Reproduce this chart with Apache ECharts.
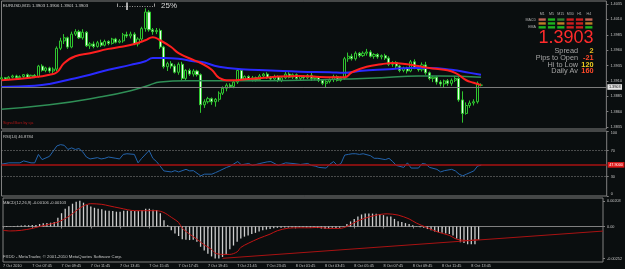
<!DOCTYPE html>
<html>
<head>
<meta charset="utf-8">
<script src="https://cdn.jsdelivr.net/npm/echarts@6.0.0/dist/echarts.min.js"></script>
<style>
html, body { margin: 0; padding: 0; background: #0a0e0f; }
#chart { width: 625px; height: 269px; }
</style>
</head>
<body>
<div id="chart"></div>
<script>
// 时间轴刻度 (每 8 根 M15 K线一个)
const tickLabels = ['7 Oct 2010', '7 Oct 07:45', '7 Oct 09:45', '7 Oct 11:45', '7 Oct 13:45', '7 Oct 15:45',
    '7 Oct 17:45', '7 Oct 19:45', '7 Oct 21:45', '7 Oct 23:45', '8 Oct 01:45', '8 Oct 03:45',
    '8 Oct 05:45', '8 Oct 07:45', '8 Oct 09:45', '8 Oct 11:45', '8 Oct 13:45'];
const slotCount = 165;   // bars + empty space on the right
const lastBar = 130;

// K线
const candleOpen = [1.3913,1.3915,1.3913,1.3916,1.3918,1.3915,1.3917,1.3920,1.3916,1.3919,
    1.3917,1.3934,1.3927,1.3931,1.3926,1.3929,1.3963,1.3975,1.3980,1.3965,
    1.3986,1.3990,1.3980,1.3989,1.3967,1.3970,1.3966,1.3972,1.3968,1.3974,
    1.3971,1.3978,1.3973,1.3975,1.3985,1.3983,1.3986,1.3970,1.3978,1.3995,
    1.4022,1.3993,1.3990,1.3992,1.3965,1.3933,1.3938,1.3934,1.3924,1.3937,
    1.3914,1.3927,1.3921,1.3926,1.3920,1.3871,1.3876,1.3881,1.3876,1.3880,
    1.3890,1.3898,1.3903,1.3901,1.3908,1.3927,1.3913,1.3917,1.3912,1.3915,
    1.3912,1.3918,1.3921,1.3915,1.3913,1.3917,1.3911,1.3915,1.3921,1.3916,
    1.3920,1.3914,1.3917,1.3915,1.3919,1.3914,1.3916,1.3911,1.3906,1.3909,
    1.3912,1.3917,1.3911,1.3914,1.3946,1.3950,1.3946,1.3955,1.3951,1.3955,
    1.3957,1.3950,1.3953,1.3949,1.3951,1.3947,1.3937,1.3940,1.3934,1.3927,
    1.3931,1.3926,1.3941,1.3932,1.3928,1.3936,1.3923,1.3914,1.3916,1.3908,
    1.3905,1.3910,1.3906,1.3911,1.3914,1.3879,1.3857,1.3870,1.3874,1.3876,
    1.3903];
const candleClose = [1.3915,1.3913,1.3916,1.3918,1.3915,1.3917,1.3920,1.3916,1.3919,1.3917,
    1.3934,1.3927,1.3931,1.3926,1.3929,1.3963,1.3975,1.3980,1.3965,1.3986,
    1.3990,1.3980,1.3989,1.3967,1.3970,1.3966,1.3972,1.3968,1.3974,1.3971,
    1.3978,1.3973,1.3975,1.3985,1.3983,1.3986,1.3970,1.3978,1.3995,1.4022,
    1.3993,1.3990,1.3992,1.3965,1.3933,1.3938,1.3934,1.3924,1.3937,1.3914,
    1.3927,1.3921,1.3926,1.3920,1.3871,1.3876,1.3881,1.3876,1.3880,1.3890,
    1.3898,1.3903,1.3901,1.3908,1.3927,1.3913,1.3917,1.3912,1.3915,1.3912,
    1.3918,1.3921,1.3915,1.3913,1.3917,1.3911,1.3915,1.3921,1.3916,1.3920,
    1.3914,1.3917,1.3915,1.3919,1.3914,1.3916,1.3911,1.3906,1.3909,1.3912,
    1.3917,1.3911,1.3914,1.3946,1.3950,1.3946,1.3955,1.3951,1.3955,1.3957,
    1.3950,1.3953,1.3949,1.3951,1.3947,1.3937,1.3940,1.3934,1.3927,1.3931,
    1.3926,1.3941,1.3932,1.3928,1.3936,1.3923,1.3914,1.3916,1.3908,1.3905,
    1.3910,1.3906,1.3911,1.3914,1.3879,1.3857,1.3870,1.3874,1.3876,1.3906,
    1.3903];
const candleLow = [1.3911,1.3911,1.3911,1.3914,1.3913,1.3913,1.3915,1.3915,1.3914,1.3916,
    1.3915,1.3925,1.3924,1.3923,1.3922,1.3926,1.3960,1.3970,1.3962,1.3963,
    1.3983,1.3978,1.3977,1.3965,1.3962,1.3963,1.3964,1.3965,1.3966,1.3968,
    1.3969,1.3971,1.3971,1.3972,1.3980,1.3979,1.3968,1.3966,1.3975,1.3990,
    1.3990,1.3985,1.3986,1.3962,1.3930,1.3926,1.3930,1.3922,1.3920,1.3911,
    1.3911,1.3918,1.3917,1.3917,1.3858,1.3866,1.3873,1.3871,1.3868,1.3876,
    1.3887,1.3893,1.3898,1.3898,1.3905,1.3910,1.3910,1.3910,1.3909,1.3909,
    1.3910,1.3915,1.3913,1.3910,1.3911,1.3908,1.3908,1.3913,1.3914,1.3913,
    1.3912,1.3910,1.3912,1.3913,1.3910,1.3911,1.3908,1.3903,1.3900,1.3906,
    1.3908,1.3909,1.3909,1.3912,1.3941,1.3943,1.3943,1.3948,1.3949,1.3951,
    1.3948,1.3946,1.3946,1.3945,1.3944,1.3934,1.3933,1.3931,1.3924,1.3924,
    1.3922,1.3924,1.3929,1.3925,1.3925,1.3920,1.3911,1.3908,1.3904,1.3901,
    1.3900,1.3902,1.3902,1.3908,1.3876,1.3842,1.3855,1.3866,1.3870,1.3873,
    1.3901];
const candleHigh = [1.3918,1.3916,1.3918,1.3920,1.3920,1.3919,1.3921,1.3922,1.3920,1.3921,
    1.3936,1.3937,1.3933,1.3933,1.3932,1.3966,1.3980,1.3986,1.3982,1.3990,
    1.3994,1.3993,1.3994,1.3991,1.3973,1.3974,1.3975,1.3977,1.3977,1.3976,
    1.3980,1.3980,1.3978,1.3988,1.3990,1.3990,1.3989,1.3981,1.3998,1.4028,
    1.4025,1.3996,1.3996,1.3995,1.3967,1.3941,1.3942,1.3937,1.3940,1.3941,
    1.3929,1.3930,1.3929,1.3928,1.3922,1.3880,1.3884,1.3883,1.3882,1.3893,
    1.3901,1.3906,1.3906,1.3911,1.3930,1.3929,1.3919,1.3919,1.3918,1.3917,
    1.3921,1.3923,1.3924,1.3918,1.3920,1.3919,1.3917,1.3925,1.3924,1.3922,
    1.3922,1.3919,1.3919,1.3921,1.3925,1.3918,1.3918,1.3913,1.3911,1.3914,
    1.3920,1.3919,1.3917,1.3949,1.3956,1.3954,1.3958,1.3957,1.3958,1.3962,
    1.3960,1.3955,1.3955,1.3953,1.3954,1.3950,1.3942,1.3942,1.3936,1.3933,
    1.3933,1.3944,1.3945,1.3935,1.3940,1.3941,1.3925,1.3918,1.3918,1.3911,
    1.3912,1.3913,1.3914,1.3918,1.3916,1.3893,1.3875,1.3878,1.3880,1.3909,
    1.3906];

// 均线 (按K线序号读取)
const redMA = [[0,1.3911],[9,1.3916],[13,1.3920],[15,1.3924],[17,1.3939],[20,1.3950],[24,1.3955],
    [29,1.3962],[32,1.3965],[36,1.3970],[39,1.3976],[41,1.3981],[43,1.3976],[46,1.3965],[48,1.3955],
    [52,1.3944],[54,1.3939],[57,1.3928],[59,1.3915],[62,1.3911],[67,1.3913],[73,1.3916],[81,1.3918],
    [88,1.3916],[93,1.3916],[95,1.3924],[99,1.3933],[103,1.3937],[106,1.3939],[110,1.3937],
    [113,1.3934],[116,1.3931],[120,1.3928],[123,1.3923],[126,1.3911],[128,1.3907],[130,1.3903]];
const blueMA = [[0,1.3900],[9,1.3902],[13,1.3905],[19,1.3913],[24,1.3920],[29,1.3928],[35,1.3936],
    [39,1.3942],[41,1.3947],[44,1.3947],[48,1.3946],[52,1.3942],[54,1.3941],[59,1.3933],[65,1.3929],
    [73,1.3927],[81,1.3925],[89,1.3924],[93,1.3923],[97,1.3926],[105,1.3929],[111,1.3931],
    [116,1.3931],[122,1.3928],[127,1.3923],[130,1.3920]];
const greenMA = [[0,1.3864],[13,1.3871],[27,1.3884],[35,1.3894],[40,1.3903],[43,1.3908],[50,1.3910],
    [67,1.3910],[81,1.3911],[93,1.3913],[103,1.3915],[113,1.3918],[119,1.3918],[130,1.3916]];
const bidPrice = 1.3903;
const priceTicks = [1.3835, 1.3860, 1.3885, 1.3910, 1.3935, 1.3960, 1.3985, 1.4010, 1.4035];

// RSI(14)
const rsiValues = [[0,49],[2,51],[5,51],[6,54],[8,51],[9,51],[10,64],[11,56],[13,61],[15,77],[16,79],
    [17,78],[18,71.6],[19,74],[20,71.6],[21,73],[22,68],[23,60],[24,57],[26,59],[27,57],[28,58],
    [29,60],[31,58],[32,57],[33,64],[34,65],[36,64],[37,51],[38,58],[40,70],[41,58],[42,53],[43,46],
    [44,38.6],[46,37],[47,39],[48,37],[50,41],[51,38.6],[52,39],[54,31],[55,33.6],[57,33.6],[58,36],
    [59,38.6],[61,44],[62,46],[63,49.5],[64,53],[65,48],[67,50],[68,47],[70,50],[72,52.5],[73,53],
    [75,47],[77,51],[79,50],[81,48.5],[83,50],[84,47],[85,46],[86,44],[88,43],[89,49],[90,53],
    [91,47],[92,50],[93,63],[94,64],[95,65],[96,65],[97,64],[98,65],[100,62],[101,58],[102,58],
    [104,56],[105,58],[106,53],[107,47],[109,44],[110,51],[111,43],[113,43],[114,50],[115,49],
    [116,44],[118,41],[119,37],[120,39],[122,41],[123,38.6],[124,33.6],[125,31],[126,33.6],
    [128,38.6],[129,46],[130,47.5]];
const rsiTicks = [0, 30, 70, 100];
const rsiLevels = [70, 30];
const rsiRedLevel = 47.9;

// MACD(12,26,9)
const macdHist = [0.00002,-0.00003,0.00003,0.00005,0.00006,0.00008,0.0001,0.0001,0.00012,0.00012,
    0.0002,0.00025,0.00028,0.0003,0.00035,0.0007,0.00105,0.0014,0.0016,0.0018,
    0.00195,0.00203,0.00188,0.0017,0.00157,0.00148,0.0014,0.00136,0.00126,0.00125,
    0.00122,0.00117,0.00117,0.00125,0.00125,0.00125,0.00122,0.00122,0.0013,0.0014,
    0.0014,0.00133,0.0013,0.00105,0.0005,0.0001,-0.0003,-0.00055,-0.00075,-0.001,
    -0.00105,-0.00107,-0.00105,-0.0012,-0.0016,-0.0019,-0.00215,-0.00236,-0.00252,-0.00252,
    -0.0024,-0.0022,-0.0018,-0.0015,-0.0012,-0.00095,-0.0008,-0.0007,-0.0006,-0.0005,
    -0.0004,-0.0003,-0.00024,-0.0002,-0.00014,-0.0001,-0.0001,-0.00008,-0.00008,-0.00008,
    -0.00006,-0.00005,-0.00006,-0.00008,-0.00007,-0.0001,-0.00012,-0.00015,-0.00018,-0.00015,
    -0.0001,-0.00012,-0.0001,0.00002,0.0002,0.0004,0.0006,0.0008,0.00095,0.00102,
    0.00102,0.00102,0.001,0.00098,0.0009,0.0008,0.0008,0.0006,0.00042,0.00035,
    0.00027,0.0002,0.0001,0.00002,-0.00005,-0.0001,-0.0002,-0.0003,-0.0004,-0.00045,
    -0.0005,-0.00055,-0.0006,-0.0007,-0.00095,-0.00125,-0.0013,-0.0014,-0.0014,-0.0014,
    -0.00106];
const macdSignal = [[0,-0.0003],[2,-0.00035],[5,-0.0003],[8,-0.00015],[10,0],[13,0.0002],[15,0.00035],
    [18,0.0008],[20,0.00125],[22,0.00163],[24,0.0018],[27,0.00175],[29,0.00163],[32,0.00145],
    [36,0.00125],[39,0.00125],[42,0.00125],[44,0.0011],[46,0.00073],[48,0.00032],[49,-0.00013],
    [51,-0.0006],[53,-0.001],[55,-0.00145],[57,-0.0018],[58,-0.0021],[60,-0.0022],[62,-0.0022],
    [64,-0.002],[65,-0.00165],[67,-0.00133],[70,-0.00093],[73,-0.0006],[75,-0.00033],[78,-0.00013],
    [81,-0.0001],[84,-0.0001],[86,-0.00007],[89,-0.00015],[92,-0.00015],[94,0],[97,0.00045],
    [100,0.00075],[103,0.00095],[105,0.001],[108,0.0009],[111,0.0006],[113,0.00027],[116,-0.0001],
    [119,-0.00045],[122,-0.0007],[124,-0.001],[127,-0.0011],[130,-0.00103]];
const macdTrend = [[60,-0.00251],[164,-0.00036]];
const macdTicks = [-0.00252, 0, 0.00203];

// 多周期信号面板
const tfNames = ['M1', 'M5', 'M15', 'M30', 'H1', 'H4'];
const signalRows = ['MACD', 'STR', 'EMA'];
const macdStates = ['weakDown', 'up', 'weakUp', 'down', 'down', 'weakDown'];
const strStates = ['flat', 'up', 'flat', 'down', 'down', 'flat'];
const emaStates = ['up', 'up', 'up', 'down', 'down', 'up'];
const stateColors = { up: '#22dd22', weakUp: '#3f9a35', down: '#ff2222', weakDown: '#f07a66', flat: '#eb9a2e' };

// 右侧信息
const infoLabels = ['Spread', 'Pips to Open', 'Hi to Low', 'Daily Av'];
const infoValues = ['2', '-21', '120', '160'];
const infoColors = ['#e8c020', '#ff4a2a', '#f0d020', '#ff4a2a'];

const FONT = '"Liberation Sans", Arial, sans-serif';
const AXIS_TEXT = '#c4c4c4';
const BORDER = '#808080';

let chart;

function showSlot(idx) {
    return idx % 8 === 0 && idx <= lastBar;
}

function buildSignalCells() {
    const rows = [macdStates, strStates, emaStates];
    const cells = [];
    rows.forEach((states, r) => {
        states.forEach((s, c) => {
            cells.push({ value: [c, r], itemStyle: { color: stateColors[s] } });
        });
    });
    return cells;
}

function text(x, y, str, size, fill, align, weight) {
    return {
        type: 'text', x: x, y: y, silent: true,
        style: {
            text: str, fill: fill, font: (weight || 'normal') + ' ' + size + 'px ' + FONT,
            textAlign: align || 'left', textVerticalAlign: 'middle'
        }
    };
}

function buildGraphics() {
    const g = [
        text(3, 5.5, 'EURUSD,M15 1.3903 1.3906 1.3901 1.3903', 4.3, '#d0d0d0'),
        text(161, 5.8, '25%', 8, '#d8d8d8'),
        { type: 'line', silent: true, shape: { x1: 117, y1: 6.5, x2: 155, y2: 6.5 },
          style: { stroke: '#9a9a9a', lineWidth: 1, lineDash: [1, 1.5] } },
        { type: 'line', silent: true, shape: { x1: 117.5, y1: 3.5, x2: 117.5, y2: 6.5 }, style: { stroke: '#9a9a9a', lineWidth: 1 } },
        { type: 'line', silent: true, shape: { x1: 154.5, y1: 3.5, x2: 154.5, y2: 6.5 }, style: { stroke: '#9a9a9a', lineWidth: 1 } },
        { type: 'line', silent: true, shape: { x1: 127, y1: 2.5, x2: 127, y2: 10 }, style: { stroke: '#e0e0e0', lineWidth: 1.5 } },
        text(3, 122.5, 'Signal Bars by cja', 3.8, '#b01515'),
        text(3, 136.5, 'RSI(14) 46.8784', 4.1, '#c8c8c8'),
        text(3, 202.5, 'MACD(12,26,9) -0.00106 -0.00103', 4.1, '#c8c8c8'),
        text(3, 256.5, 'FXDD - MetaTrader, \u00a9 2001-2010 MetaQuotes Software Corp.', 4.3, '#c8c8c8'),
        text(593.5, 38.5, '1.3903', 18, '#ff2b2b', 'right')
    ];
    infoLabels.forEach((label, i) => {
        const y = 51.3 + i * 6.65;
        g.push(text(578, y, label, 7.3, '#a4a4a4', 'right'));
        g.push(text(593.5, y, infoValues[i], 7.3, infoColors[i], 'right', 'bold'));
    });
    return g;
}

function initChart() {
    chart = echarts.init(document.getElementById('chart'), null, { renderer: 'canvas' });
    const cats = Array.from({ length: slotCount }, (_, i) => i);
    const candles = candleOpen.map((o, i) => [o, candleClose[i], candleLow[i], candleHigh[i]]);
    const paneGrid = { left: 1.5, width: 605.2, show: true, borderColor: BORDER, borderWidth: 1, backgroundColor: 'transparent' };
    const hiddenX = (gi) => ({ gridIndex: gi, type: 'category', data: cats, boundaryGap: false, show: false });
    const rightY = (gi, extra) => Object.assign({
        gridIndex: gi, type: 'value', position: 'right',
        splitLine: { show: false }, axisLine: { show: false },
        axisTick: { show: true, length: 2, lineStyle: { color: BORDER } }
    }, extra);

    const option = {
        backgroundColor: '#0a0e0f',
        animation: false,
        textStyle: { fontFamily: FONT },
        grid: [
            Object.assign({ top: 1, height: 128 }, paneGrid),
            Object.assign({ top: 131, height: 65 }, paneGrid),
            Object.assign({ top: 198, height: 64 }, paneGrid),
            { left: 537.5, top: 17.6, width: 56, height: 11.7, show: false }
        ],
        xAxis: [
            hiddenX(0),
            hiddenX(1),
            {
                gridIndex: 2, type: 'category', data: cats, boundaryGap: false,
                axisLine: { show: true, lineStyle: { color: BORDER } },
                axisTick: { show: true, interval: showSlot, length: 2, lineStyle: { color: BORDER } },
                axisLabel: {
                    interval: showSlot, align: 'left', color: AXIS_TEXT, fontSize: 3.8, margin: 2,
                    formatter: (v, idx) => tickLabels[idx / 8] || ''
                },
                splitLine: { show: false }
            },
            {
                gridIndex: 3, type: 'category', data: tfNames, position: 'top',
                axisLine: { show: false }, axisTick: { show: false },
                axisLabel: { color: '#b0b0b0', fontSize: 3.6, margin: 1.5 }
            }
        ],
        yAxis: [
            rightY(0, {
                min: 1.38317, max: 1.40399,
                axisTick: { show: true, length: 2, customValues: priceTicks, lineStyle: { color: BORDER } },
                axisLabel: { customValues: priceTicks, formatter: v => v.toFixed(4), color: AXIS_TEXT, fontSize: 3.8, margin: 4 }
            }),
            rightY(1, {
                min: 0, max: 100,
                axisTick: { show: true, length: 2, customValues: rsiTicks, lineStyle: { color: BORDER } },
                axisLabel: {
                    customValues: rsiTicks, color: AXIS_TEXT, fontSize: 3.8, margin: 4,
                    verticalAlignMinLabel: 'bottom', verticalAlignMaxLabel: 'top'
                }
            }),
            rightY(2, {
                min: -0.0028, max: 0.00225,
                axisTick: { show: true, length: 2, customValues: macdTicks, lineStyle: { color: BORDER } },
                axisLabel: {
                    customValues: macdTicks, color: AXIS_TEXT, fontSize: 3.8, margin: 4,
                    formatter: v => (v === 0 ? '0.00' : v.toFixed(5))
                }
            }),
            {
                gridIndex: 3, type: 'category', data: signalRows, inverse: true,
                axisLine: { show: false }, axisTick: { show: false },
                axisLabel: { color: '#b0b0b0', fontSize: 3.6, margin: 1.5 }
            }
        ],
        series: [
            {
                name: 'EURUSD', type: 'candlestick', xAxisIndex: 0, yAxisIndex: 0,
                data: candles, barWidth: 2.6, z: 2,
                itemStyle: { color: '#0a0e0f', color0: '#e8ffe8', borderColor: '#2fc52f', borderColor0: '#2fc52f', borderWidth: 1 },
                markLine: {
                    silent: true, symbol: ['none', 'none'],
                    data: [{
                        yAxis: bidPrice,
                        lineStyle: { color: '#7c7c7c', width: 1, type: 'solid' },
                        label: {
                            show: true, position: 'end', distance: 1, formatter: bidPrice.toFixed(4),
                            backgroundColor: '#e6e6e6', color: '#000', fontSize: 3.8, padding: [0.8, 1.5]
                        }
                    }]
                }
            },
            { name: 'MA slow', type: 'line', data: greenMA, smooth: true, showSymbol: false, z: 3,
              lineStyle: { color: '#2f8f56', width: 1.5 } },
            { name: 'MA mid', type: 'line', data: blueMA, smooth: true, showSymbol: false, z: 3,
              lineStyle: { color: '#2a2aff', width: 2 } },
            { name: 'MA fast', type: 'line', data: redMA, smooth: true, showSymbol: false, z: 4,
              lineStyle: { color: '#ff1f1f', width: 2 } },
            {
                name: 'RSI', type: 'line', xAxisIndex: 1, yAxisIndex: 1, data: rsiValues,
                showSymbol: false, lineStyle: { color: '#2464ac', width: 1 },
                markLine: {
                    silent: true, symbol: ['none', 'none'],
                    data: rsiLevels.map(v => ({
                        yAxis: v, label: { show: false },
                        lineStyle: { color: '#8a8a8a', width: 1, type: [1, 2] }
                    })).concat([{
                        yAxis: rsiRedLevel,
                        lineStyle: { color: '#a81212', width: 1.5, type: 'solid' },
                        label: {
                            show: true, position: 'end', distance: 1, formatter: rsiRedLevel.toFixed(4),
                            backgroundColor: '#e01a1a', color: '#fff', fontSize: 3.8, padding: [0.8, 1.5]
                        }
                    }])
                }
            },
            {
                name: 'MACD', type: 'bar', xAxisIndex: 2, yAxisIndex: 2, data: macdHist,
                barWidth: 1.3, itemStyle: { color: '#cfcfcf' }
            },
            { name: 'Signal', type: 'line', xAxisIndex: 2, yAxisIndex: 2, data: macdSignal,
              smooth: 0.3, showSymbol: false, lineStyle: { color: '#c21414', width: 1 } },
            { name: 'Trend', type: 'line', xAxisIndex: 2, yAxisIndex: 2, data: macdTrend,
              showSymbol: false, lineStyle: { color: '#a81212', width: 1 } },
            {
                name: 'Signals', type: 'scatter', xAxisIndex: 3, yAxisIndex: 3,
                data: buildSignalCells(), symbol: 'rect', symbolSize: [7.2, 2.4], silent: true
            }
        ],
        graphic: buildGraphics()
    };
    chart.setOption(option);
}

document.addEventListener('DOMContentLoaded', initChart);
</script>
</body>
</html>
